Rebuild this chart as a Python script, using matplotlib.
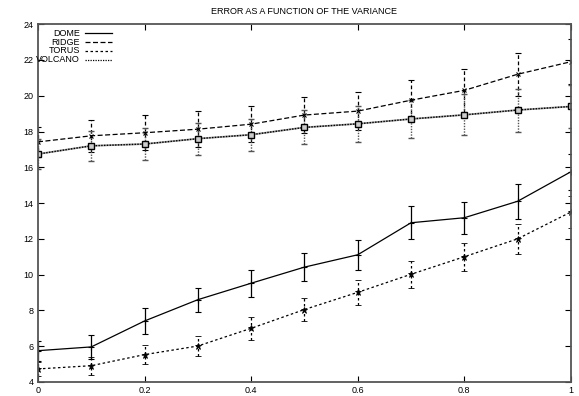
"""Error as a function of the variance - gnuplot style line chart with error bars."""
from matplotlib import pyplot as plt
from matplotlib.ticker import FuncFormatter

variance = [0.0, 0.1, 0.2, 0.3, 0.4, 0.5, 0.6, 0.7, 0.8, 0.9, 1.0]

dome = [5.75, 5.96, 7.41, 8.6, 9.52, 10.42, 11.11, 12.9, 13.18, 14.1, 15.75]
dome_err = [0.55, 0.65, 0.72, 0.68, 0.75, 0.8, 0.83, 0.93, 0.9, 0.97, 1.0]

ridge = [17.42, 17.76, 17.93, 18.13, 18.41, 18.92, 19.14, 19.75, 20.3, 21.2, 21.9]
ridge_err = [0.85, 0.9, 0.97, 1.0, 1.0, 1.0, 1.05, 1.12, 1.2, 1.2, 1.25]

torus = [4.73, 4.91, 5.53, 6.01, 7.0, 8.05, 9.01, 10.02, 11.0, 12.0, 13.5]
torus_err = [0.4, 0.5, 0.54, 0.56, 0.63, 0.62, 0.7, 0.75, 0.77, 0.85, 0.9]

volcano = [16.74, 17.2, 17.3, 17.6, 17.82, 18.23, 18.43, 18.7, 18.93, 19.2, 19.4]
volcano_err = [0.85, 0.85, 0.87, 0.9, 0.9, 0.95, 1.0, 1.05, 1.15, 1.2, 1.2]

labels = ['DOME', 'RIDGE', 'TORUS', 'VOLCANO']


def chart():
    plt.rcParams['font.family'] = ['Liberation Sans', 'DejaVu Sans']
    fig = plt.figure(figsize=(5.79, 3.96), dpi=100)
    ax = fig.add_axes([0.0656, 0.0354, 0.9204, 0.9036])

    # DOME - solid
    ax.errorbar(variance, dome, yerr=dome_err, color='black', lw=0.9,
                elinewidth=0.9, capsize=2.5, marker='+', ms=4, mew=0.8)
    # RIDGE - dashed
    eb = ax.errorbar(variance, ridge, yerr=ridge_err, color='black', lw=0.9,
                     ls=(0, (4, 2)), elinewidth=0.9, capsize=2.5,
                     marker='x', ms=3.5, mew=0.8)
    eb[2][0].set_linestyle((0, (3, 2)))
    # TORUS - dotted
    eb = ax.errorbar(variance, torus, yerr=torus_err, color='black', lw=0.9,
                     ls=(0, (2, 2)), elinewidth=0.9, capsize=2.5,
                     marker='*', ms=5, mew=0.6)
    eb[2][0].set_linestyle((0, (2, 2)))
    # VOLCANO - gray line with fine dots
    ax.plot(variance, volcano, color='#999999', lw=1.3)
    eb = ax.errorbar(variance, volcano, yerr=volcano_err, color='black', lw=1.0,
                     ls=(0, (1, 1)), elinewidth=1.0, capsize=2.5, ecolor='#555555',
                     marker='s', ms=4.5, mfc='#cccccc', mec='black', mew=1.0)
    eb[2][0].set_linestyle((0, (1, 1)))

    # legend in gnuplot style: right aligned text, sample on the right
    styles = ['-', (0, (4, 2)), (0, (2, 2)), (0, (1, 1))]
    for i, lab in enumerate(labels):
        y = 0.975 - i * 0.025
        ax.text(0.079, y, lab, ha='right', va='center', fontsize=6.5,
                transform=ax.transAxes)
        ax.plot([0.088, 0.138], [y, y], color='black', lw=0.9, ls=styles[i],
                transform=ax.transAxes)

    ax.set_xlim(0, 1)
    ax.set_ylim(4, 24)
    ax.set_xticks([0, 0.2, 0.4, 0.6, 0.8, 1.0])
    ax.set_yticks(range(4, 25, 2))
    ax.xaxis.set_major_formatter(FuncFormatter(lambda v, p: '%g' % v))
    ax.tick_params(direction='in', top=True, right=True, length=4,
                   labelsize=6.5, pad=3)
    for s in ax.spines.values():
        s.set_color('#555555')
        s.set_linewidth(1.3)
    ax.set_title('ERROR AS A FUNCTION OF THE VARIANCE', fontsize=6.5, pad=7)
    fig.savefig('out.png', dpi=100)


chart()
